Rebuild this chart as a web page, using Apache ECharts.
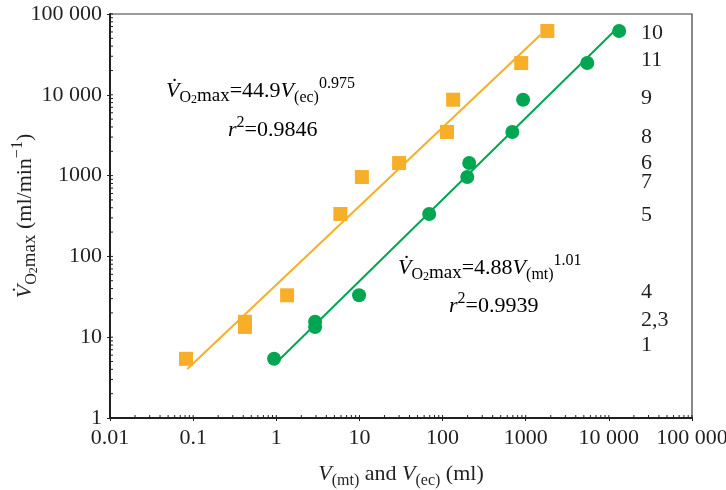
<!DOCTYPE html>
<html>
<head>
<meta charset="utf-8">
<script src="https://cdn.jsdelivr.net/npm/echarts@6/dist/echarts.min.js"></script>
<style>
html, body { margin: 0; padding: 0; background: #fff; }
#chart { width: 726px; height: 490px; }
</style>
</head>
<body>
<div id="chart"></div>
<script>
// V(ec) vs VO2max (squares) and V(mt) vs VO2max (circles)
var ecData = [[0.082, 5.4], [0.42, 15.5], [0.42, 13.4], [1.35, 33], [5.9, 335], [10.7, 960],
              [30, 1430], [113, 3470], [134, 8700], [883, 24700], [1820, 61700]];
var mtData = [[0.94, 5.4], [2.93, 15.5], [2.93, 13.4], [9.9, 33], [69, 335], [198, 960],
              [209, 1430], [690, 3470], [930, 8700], [5500, 24700], [13300, 61700]];
var ecFit = [[0.085, 4.05], [1500, 55000]];
var mtFit = [[0.95, 4.6], [12500, 66000]];

var xTickLabels = ['0.01', '0.1', '1', '10', '100', '1000', '10 000', '100 000'];
var yTickLabels = ['1', '10', '100', '1000', '10 000', '100 000'];
var speciesLabels = ['10', '11', '9', '8', '6', '7', '5', '4', '2,3', '1'];
var speciesLabelY = [34, 61, 99, 138, 164, 183, 216, 293, 321, 346];

var orange = '#f7ae28';
var green = '#00a651';
var ink = '#231f20';
var serif = '"Liberation Serif", "DejaVu Serif", serif';

// minor ticks 2..9 per decade, plus majors for the inner half of the tick
var xTicks = [], yTicks = [];
for (var k = -2; k <= 5; k++) {
    for (var m = 1; m <= 9; m++) {
        var v = m * Math.pow(10, k);
        if (k <= 4 || m === 1) xTicks.push([v, 1, 3]);
        if (k >= 0 && (k <= 4 || m === 1)) yTicks.push([0.01, v, 3]);
    }
}

function logIndex(v) { return Math.round(Math.log(v) / Math.LN10); }

var rich = {
    it: { fontFamily: serif, fontSize: 22, fontStyle: 'italic', color: ink, lineHeight: 30 },
    n: { fontFamily: serif, fontSize: 22, color: ink, lineHeight: 30 },
    o: { fontFamily: serif, fontSize: 16, color: ink, verticalAlign: 'bottom', lineHeight: 26 },
    s2: { fontFamily: serif, fontSize: 12, color: ink, verticalAlign: 'bottom', lineHeight: 14 },
    mx: { fontFamily: serif, fontSize: 19, color: ink, verticalAlign: 'bottom', lineHeight: 26 },
    sub: { fontFamily: serif, fontSize: 16, color: ink, verticalAlign: 'bottom', lineHeight: 17 },
    sup: { fontFamily: serif, fontSize: 16, color: ink, verticalAlign: 'top', lineHeight: 15 }
};

var vo2 = '{it|V\u0307}{o|O}{s2|2}{mx|max}';

function tickItem(isX) {
    return function (params, api) {
        var p = api.coord([api.value(0), api.value(1)]);
        var len = api.value(2);
        return {
            type: 'line',
            shape: isX ? { x1: p[0], y1: p[1], x2: p[0], y2: p[1] - len }
                       : { x1: p[0], y1: p[1], x2: p[0] + len, y2: p[1] },
            style: { stroke: ink, lineWidth: 1 }
        };
    };
}

var graphics = [
    { type: 'text', left: 166, top: 76, style: { text: vo2 + '{n|=44.9}{it|V}{sub|(ec)}{sup|0.975}', rich: rich } },
    { type: 'text', left: 228, top: 115, style: { text: '{it|r}{sup|2}{n|=0.9846}', rich: rich } },
    { type: 'text', left: 398, top: 253, style: { text: vo2 + '{n|=4.88}{it|V}{sub|(mt)}{sup|1.01}', rich: rich } },
    { type: 'text', left: 449, top: 291, style: { text: '{it|r}{sup|2}{n|=0.9939}', rich: rich } }
];
for (var i = 0; i < speciesLabels.length; i++) {
    graphics.push({
        type: 'text', left: 641, top: speciesLabelY[i] - 12,
        style: { text: speciesLabels[i], font: '22px ' + serif, fill: ink }
    });
}

var chart = echarts.init(document.getElementById('chart'));
chart.setOption({
    backgroundColor: '#fff',
    animation: false,
    grid: {
        left: 110, right: 34, top: 14, bottom: 72, outerBoundsMode: 'none', containLabel: false,
        show: true, borderColor: '#3a3a3a', borderWidth: 1.2
    },
    xAxis: {
        type: 'log', logBase: 10, min: 0.01, max: 100000,
        name: '{it|V}{sub|(mt)}{n| and }{it|V}{sub|(ec)}{n| (ml)}',
        nameLocation: 'middle', nameGap: 41, nameMoveOverlap: false,
        nameTextStyle: { rich: rich },
        axisLine: { lineStyle: { color: ink, width: 2 } },
        axisTick: { show: true, inside: false, length: 3, lineStyle: { color: ink } },
        axisLabel: {
            margin: 9, color: ink, fontFamily: serif, fontSize: 22,
            formatter: function (v) { return xTickLabels[logIndex(v) + 2]; }
        },
        splitLine: { show: false }
    },
    yAxis: {
        type: 'log', logBase: 10, min: 1, max: 100000,
        name: vo2 + '{n| (ml/min}{sup|\u22121}{n|)}',
        nameLocation: 'middle', nameGap: 70, nameRotate: 90, nameMoveOverlap: false,
        nameTextStyle: { rich: rich },
        axisLine: { lineStyle: { color: ink, width: 2 } },
        axisTick: { show: true, inside: false, length: 3, lineStyle: { color: ink } },
        axisLabel: {
            margin: 8, color: ink, fontFamily: serif, fontSize: 22,
            formatter: function (v) { return yTickLabels[logIndex(v)]; }
        },
        splitLine: { show: false }
    },
    series: [
        { type: 'line', data: ecFit, symbol: 'none', lineStyle: { color: orange, width: 2 }, z: 2 },
        { type: 'line', data: mtFit, symbol: 'none', lineStyle: { color: green, width: 2 }, z: 2 },
        { type: 'scatter', data: ecData, symbol: 'rect', symbolSize: 14, itemStyle: { color: orange, opacity: 1 }, z: 3 },
        { type: 'scatter', data: mtData, symbol: 'circle', symbolSize: 14, itemStyle: { color: green, opacity: 1 }, z: 3 },
        { type: 'custom', data: xTicks, renderItem: tickItem(true), silent: true, clip: false, z: 4 },
        { type: 'custom', data: yTicks, renderItem: tickItem(false), silent: true, clip: false, z: 4 }
    ],
    graphic: graphics
});
</script>
</body>
</html>
